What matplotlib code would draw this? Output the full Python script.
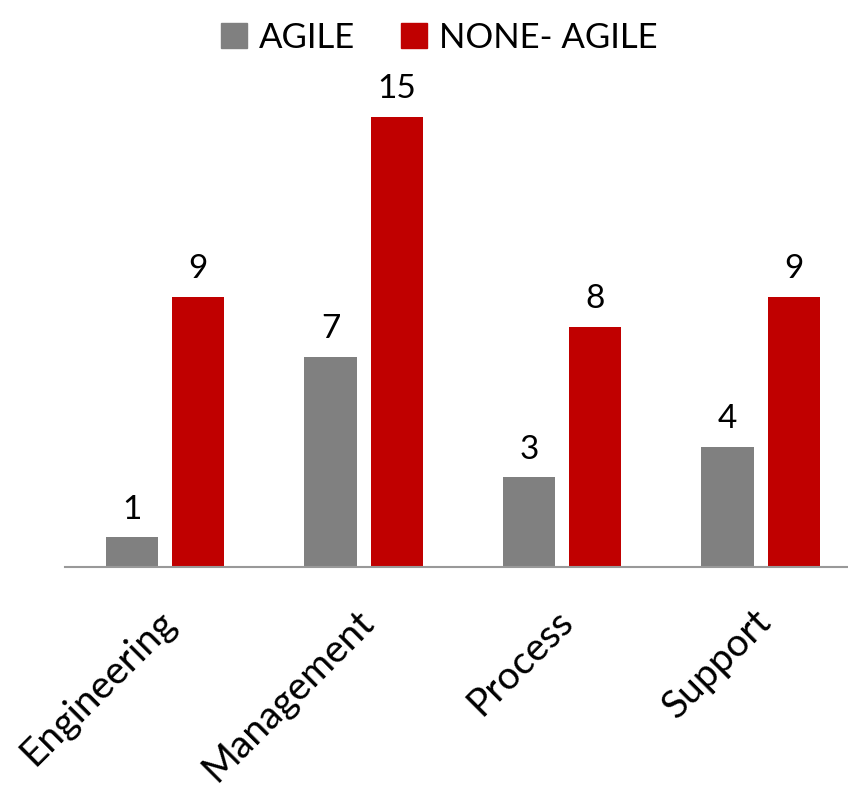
import matplotlib
matplotlib.use("Agg")
import matplotlib.pyplot as plt
import matplotlib.transforms as mtransforms
import numpy as np
from matplotlib.patches import Patch

categories = ["Engineering", "Management", "Process", "Support"]
agile = [1, 7, 3, 4]
none_agile = [9, 15, 8, 9]
series_names = ["AGILE", "NONE- AGILE"]
colors = ["#808080", "#C00000"]

plt.rcParams['font.family'] = ['Lato', 'DejaVu Sans']

fig = plt.figure(figsize=(8.48, 7.87), dpi=100)
ax_left = 65 / 848
ax = fig.add_axes([ax_left, 0.2795, 1 - ax_left, 0.67])

x = np.arange(len(categories))
w = 0.263
off = 0.167
b1 = ax.bar(x - off, agile, w, color=colors[0])
b2 = ax.bar(x + off, none_agile, w, color=colors[1])
for bars, vals in ((b1, agile), (b2, none_agile)):
    for r, v in zip(bars, vals):
        ax.annotate(str(v), (r.get_x() + r.get_width() / 2, r.get_height()),
                    xytext=(0, 9), textcoords='offset points',
                    ha='center', va='bottom', fontsize=24, color='black')

ax.set_xlim(-0.505, 3.44)
ax.set_ylim(0, 17.57)
for s in ['top', 'right', 'left']:
    ax.spines[s].set_visible(False)
ax.spines['bottom'].set_color('#999999')
ax.spines['bottom'].set_linewidth(1.5)
ax.set_yticks([])
ax.set_xticks(x)
ax.set_xticklabels(categories, rotation=45, ha='right', va='top',
                   rotation_mode='anchor', fontsize=28)
ax.tick_params(axis='x', length=0, pad=26)
shift = mtransforms.ScaledTranslation(-8 / 100, 0, fig.dpi_scale_trans)
for lbl in ax.get_xticklabels():
    lbl.set_transform(lbl.get_transform() + shift)

handles = [Patch(color=c) for c in colors]
fig.legend(handles, series_names, loc='upper center', bbox_to_anchor=(0.518, 1.012),
           ncol=2, frameon=False, fontsize=25, handlelength=0.75, handleheight=0.75,
           handletextpad=0.35, columnspacing=1.3)

fig.savefig("out.png", dpi=100)
